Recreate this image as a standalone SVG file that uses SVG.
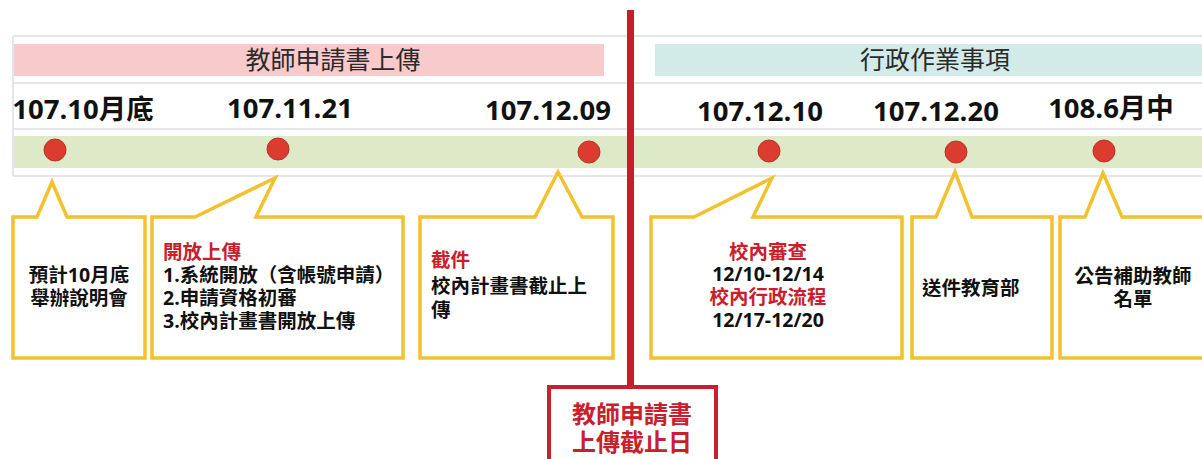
<svg xmlns="http://www.w3.org/2000/svg" width="1202" height="459" viewBox="0 0 1202 459">
<style>
.grid{stroke:#e3e6ea;stroke-width:2;fill:none}
.hdr{font-family:"Noto Sans CJK TC","Noto Sans",sans-serif;font-size:25px;fill:#2a2a2a;text-anchor:middle}
.date{font-family:"Open Sans","Noto Sans CJK TC",sans-serif;font-size:27.5px;font-weight:bold;fill:#111;text-anchor:middle}
.dot{fill:#dc3b2f;stroke:#b8332a;stroke-width:1}
.call{fill:#fff;stroke:#f2c12e;stroke-width:3.5;stroke-linejoin:miter}
.t{font-family:"Open Sans","Noto Sans CJK TC",sans-serif;font-size:19.5px;font-weight:bold;fill:#111}
.r{fill:#c8202c}
.m{text-anchor:middle}
.dl{font-family:"Noto Sans CJK TC",sans-serif;font-size:24px;font-weight:bold;fill:#c8202c;text-anchor:middle}
</style>
<rect width="1202" height="459" fill="#fff"/>
<g id="table">
<rect x="13" y="44" width="591" height="32" fill="#f8cacc"/>
<rect x="655" y="44" width="547" height="32" fill="#d3ebe8"/>
<rect x="13" y="136" width="1189" height="32" fill="#dde9c7"/>
<path class="grid" d="M13 36H1202M13 83H1202M13 129H1202M13 176H1202M13 36V176"/>
<text class="hdr" x="333" y="69">教師申請書上傳</text>
<text class="hdr" x="935" y="69">行政作業事項</text>
</g>
<g id="dates">
<text class="date" x="83" y="119">107.10月底</text>
<text class="date" x="290" y="118">107.11.21</text>
<text class="date" x="548" y="120">107.12.09</text>
<text class="date" x="760" y="121">107.12.10</text>
<text class="date" x="936" y="121">107.12.20</text>
<text class="date" x="1111" y="118">108.6月中</text>
</g>
<g id="dots">
<circle class="dot" cx="55" cy="150" r="11"/>
<circle class="dot" cx="278" cy="149" r="11"/>
<circle class="dot" cx="589" cy="152" r="11"/>
<circle class="dot" cx="769" cy="151" r="11"/>
<circle class="dot" cx="956" cy="152" r="11"/>
<circle class="dot" cx="1104" cy="151" r="11"/>
</g>
<g id="deadline-line">
<rect x="627" y="10" width="7" height="378" fill="#c41e2a"/>
</g>
<g id="callout1">
<path class="call" d="M13 217H37L52 182L67 217H145V358H13Z"/>
<text class="t m" x="79" y="282">預計10月底</text>
<text class="t m" x="79" y="305">舉辦說明會</text>
</g>
<g id="callout2">
<path class="call" d="M152 217H195L275 178L256 217H403V358H152Z"/>
<text class="t r" x="163" y="259">開放上傳</text>
<text class="t" x="163" y="282">1.系統開放（含帳號申請）</text>
<text class="t" x="163" y="305">2.申請資格初審</text>
<text class="t" x="163" y="328">3.校內計畫書開放上傳</text>
</g>
<g id="callout3">
<path class="call" d="M420 217H535L558 172L582 217H613V358H420Z"/>
<text class="t r" x="431" y="267">截件</text>
<text class="t" x="431" y="293">校內計畫書截止上</text>
<text class="t" x="431" y="317">傳</text>
</g>
<g id="callout4">
<path class="call" d="M651 217H694L772 178L753 217H902V358H651Z"/>
<text class="t r m" x="768" y="259">校內審查</text>
<text class="t m" x="768" y="281">12/10-12/14</text>
<text class="t r m" x="768" y="304">校內行政流程</text>
<text class="t m" x="768" y="327">12/17-12/20</text>
</g>
<g id="callout5">
<path class="call" d="M912 217H936L955 172L972 217H1052V358H912Z"/>
<text class="t" x="922" y="295">送件教育部</text>
</g>
<g id="callout6">
<path class="call" d="M1060 217H1085L1103 173L1122 217H1210V358H1060Z"/>
<text class="t m" x="1133" y="283">公告補助教師</text>
<text class="t m" x="1133" y="306">名單</text>
</g>
<g id="deadline-box">
<rect x="549" y="387" width="167" height="80" fill="#fff" stroke="#c8202c" stroke-width="4"/>
<text class="dl" x="632" y="423">教師申請書</text>
<text class="dl" x="632" y="451">上傳截止日</text>
</g>
</svg>
